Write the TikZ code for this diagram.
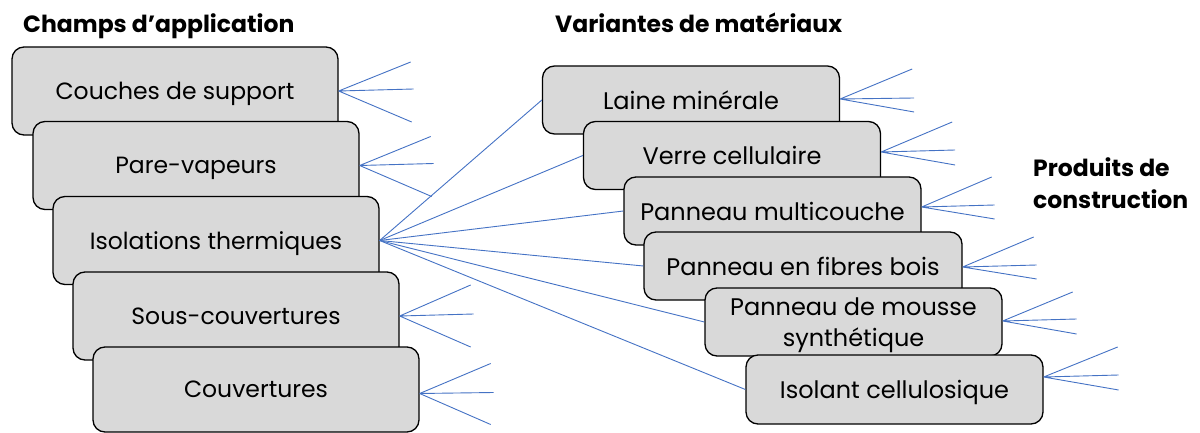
\documentclass[tikz,border=0pt]{standalone}
\usepackage{fontspec}
\setmainfont{Poppins}
\definecolor{boxgray}{HTML}{D9D9D9}
\definecolor{linkblue}{HTML}{4472C4}
\begin{document}
\begin{tikzpicture}[x=1pt,y=-1pt,
  box/.style={draw=black, line width=1.3pt, fill=boxgray, rounded corners=12pt,
    minimum width=326pt, minimum height=88pt, inner sep=0pt, align=center,
    text depth=0pt, font=\fontsize{23.5}{31}\selectfont},
  rbox/.style={box, minimum width=297pt, minimum height=68pt, font=\fontsize{24}{31}\selectfont},
  link/.style={draw=linkblue, line width=0.9pt},
  title/.style={font=\bfseries\fontsize{23.5}{32}\selectfont, anchor=base west, inner sep=0pt, align=left}]
\useasboundingbox (0,0) rectangle (1200,433);

% titles
\node[title] (t1) at (23,33) {Champs d’application};
\node[title] (t2) at (555,33) {Variantes de matériaux};
\node[title, anchor=north west] (t3) at (1033,157) {Produits de\\construction};

% left boxes
\node[box] (a1) at (175,91) {Couches de support};
\node[box] (a2) at (196,165.5) {Pare-vapeurs};
\node[box] (a3) at (216,240.5) {Isolations thermiques};
\node[box] (a4) at (236,316) {Sous-couvertures};
\node[box, minimum height=85pt] (a5) at (256,389.5) {Couvertures};

% right boxes
\node[rbox] (b1) at (691,100) {Laine minérale};
\node[rbox] (b2) at (732,155.5) {Verre cellulaire};
\node[rbox] (b3) at (772.5,211) {Panneau multicouche};
\node[rbox, minimum width=318pt] (b4) at (803,266) {Panneau en fibres bois};
\node[rbox] (b5) at (853.5,322) {Panneau de mousse\\synthétique};
\node[rbox, minimum height=69pt] (b6) at (894.5,389.5) {Isolant cellulosique};

% links from Isolations thermiques
\foreach \b in {b1,b2,b3,b4,b5,b6}
  \draw[link] (a3.east) -- (\b.west);

% fan origins
\coordinate (o1) at (a1.east);
\coordinate (o2) at (a2.east);
\coordinate (o4) at (a4.east);
\coordinate (o5) at ([yshift=-4pt]a5.east);
\coordinate (p1) at ([yshift=1pt]b1.east);
\coordinate (p2) at ([yshift=3.5pt]b2.east);
\coordinate (p3) at ([yshift=4pt]b3.east);
\coordinate (p4) at ([yshift=-1pt]b4.east);
\coordinate (p5) at ([yshift=1pt]b5.east);
\coordinate (p6) at ([yshift=12.5pt]b6.east);

% fan free ends
\path (o1) ++(72,-29) coordinate (o1a) (o1) ++(75,-2) coordinate (o1b) (o1) ++(73,31) coordinate (o1c);
\path (o2) ++(71,-29) coordinate (o2a) (o2) ++(74,-2) coordinate (o2b) (o2) ++(72,31) coordinate (o2c);
\path (o4) ++(71,-31) coordinate (o4a) (o4) ++(74,-2) coordinate (o4b) (o4) ++(71,31) coordinate (o4c);
\path (o5) ++(71,-30) coordinate (o5a) (o5) ++(74,-1) coordinate (o5b) (o5) ++(71,31) coordinate (o5c);
\path (p1) ++(72,-30) coordinate (p1a) (p1) ++(74,-1) coordinate (p1b) (p1) ++(74,13) coordinate (p1c);
\path (p2) ++(71,-30) coordinate (p2a) (p2) ++(74,-2) coordinate (p2b) (p2) ++(74,13) coordinate (p2c);
\path (p3) ++(70,-30) coordinate (p3a) (p3) ++(73,-2) coordinate (p3b) (p3) ++(73,12) coordinate (p3c);
\path (p4) ++(71,-30) coordinate (p4a) (p4) ++(74,-2) coordinate (p4b) (p4) ++(74,12) coordinate (p4c);
\path (p5) ++(70,-29) coordinate (p5a) (p5) ++(74,-2) coordinate (p5b) (p5) ++(74,13) coordinate (p5c);
\path (p6) ++(74,-30) coordinate (p6a) (p6) ++(75,-2) coordinate (p6b) (p6) ++(75,13) coordinate (p6c);

\foreach \o in {o1,o2,o4,o5,p1,p2,p3,p4,p5,p6}
  \draw[link] (\o) -- (\o a) (\o) -- (\o b) (\o) -- (\o c);
\end{tikzpicture}
\end{document}
